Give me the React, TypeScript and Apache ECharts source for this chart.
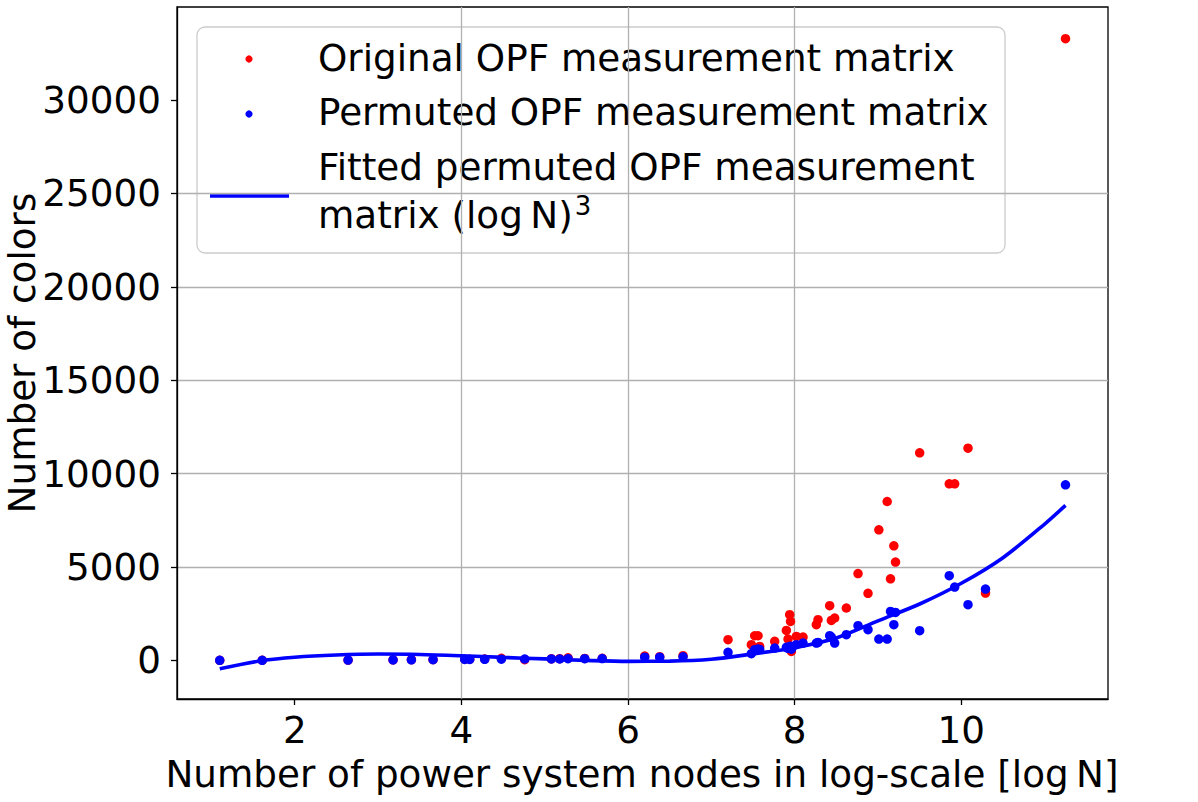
import React, { useEffect, useRef } from "react";
import * as echarts from "echarts";

// log of the number of nodes for each power system case
const logN = [
  1.1, 1.61, 2.64, 3.18, 3.4, 3.66, 4.04, 4.1, 4.28, 4.48, 4.76, 5.08, 5.18, 5.28, 5.48, 5.69,
  6.2, 6.38, 6.66, 7.2, 7.48, 7.52, 7.56, 7.58, 7.76, 7.9, 7.94, 7.95, 7.92, 7.96, 8.02, 8.1,
  8.26, 8.28, 8.42, 8.44, 8.48, 8.62, 8.76, 8.88, 9.01, 9.11, 9.15, 9.21, 9.19, 9.5, 9.855,
  9.92, 10.08, 10.29, 11.25,
];

// colors needed for the original measurement matrix
const originalColors = [
  5, 8, 20, 32, 38, 46, 62, 64, 75, 110, 40, 85, 95, 140, 105, 115,
  230, 200, 250, 1108, 840, 1320, 1320, 750, 1020, 1606, 2446, 2088, 1145, 482, 1285, 1252,
  1911, 2178, 2928, 2141, 2270, 2805, 4650, 3590, 6992, 8506, 4370, 5264, 6137, 11110, 9453,
  9453, 11363, 3606, 33280,
];

// colors needed for the permuted measurement matrix
const permutedColors = [
  4, 7, 17, 28, 33, 40, 52, 55, 60, 65, 75, 80, 75, 90, 95, 100,
  170, 170, 190, 430, 360, 572, 610, 590, 663, 700, 720, 760, 650, 600, 840, 930,
  930, 963, 1322, 1250, 930, 1376, 1857, 1642, 1145, 1145, 2621, 2570, 1910, 1589, 4534,
  3927, 2980, 3820, 9400,
];

// cubic fit in log N of the permuted colors
const fitLogN = [1.1, 1.6, 2, 2.5, 3, 3.5, 4, 4.5, 5, 5.5, 6, 6.5, 7, 7.5, 8, 8.5, 9, 9.5, 10, 10.5, 11, 11.25];
const fitColors = [-450, -20, 170, 290, 340, 320, 250, 160, 80, 0, -50, -40, 60, 350, 680, 1200, 2120, 3020, 4130, 5500, 7300, 8300];

const xTicks = [2, 4, 6, 8, 10];
const yTicks = [0, 5000, 10000, 15000, 20000, 25000, 30000];

const legendLabels = [
  "Original OPF measurement matrix",
  "Permuted OPF measurement matrix",
  "Fitted permuted OPF measurement",
  "matrix (log\u2009N)",
];

const FONT = '"DejaVu Sans", "Noto Sans", sans-serif';
const FS = 37.3;
const RED = "#ff0000";
const BLUE = "#0000ff";
const GRID_COLOR = "#b0b0b0";

function measure(text: string, size: number): number {
  const ctx = document.createElement("canvas").getContext("2d");
  if (!ctx) return text.length * size * 0.55;
  ctx.font = `${size}px ${FONT}`;
  return ctx.measureText(text).width;
}

export default function App() {
  const ref = useRef<HTMLDivElement | null>(null);

  useEffect(() => {
    if (!ref.current) return;
    const chart = echarts.init(ref.current, undefined, { renderer: "svg" });

    const textStyle = (text: string, extra: Record<string, unknown> = {}) => ({
      text,
      fontSize: FS,
      fontFamily: FONT,
      fill: "#000",
      ...extra,
    });

    const supX = 318 + measure(legendLabels[3], FS) + 2;

    chart.setOption({
      animation: false,
      backgroundColor: "#ffffff",
      grid: {
        left: 177,
        top: 7,
        width: 931,
        height: 692,
        show: true,
        borderColor: "#000",
        borderWidth: 1.3,
        backgroundColor: "transparent",
      },
      xAxis: {
        type: "value",
        min: 0.587,
        max: 11.76,
        splitNumber: 5,
        axisLine: { show: true, onZero: false, lineStyle: { color: "#000", width: 1.3 } },
        axisTick: { show: true, length: 6, customValues: xTicks, lineStyle: { color: "#000", width: 1.3 } },
        axisLabel: {
          customValues: xTicks,
          formatter: (v: number) => (xTicks.includes(v) ? String(v) : ""),
          fontSize: FS,
          fontFamily: FONT,
          color: "#000",
          margin: 12,
        },
        splitLine: { show: true, showMinLine: false, showMaxLine: false, lineStyle: { color: GRID_COLOR, width: 1.3 } },
      },
      yAxis: {
        type: "value",
        min: -2066,
        max: 34978,
        splitNumber: 7,
        axisLine: { show: true, onZero: false, lineStyle: { color: "#000", width: 1.3 } },
        axisTick: { show: true, length: 6, customValues: yTicks, lineStyle: { color: "#000", width: 1.3 } },
        axisLabel: {
          customValues: yTicks,
          formatter: (v: number) => (yTicks.includes(v) ? String(v) : ""),
          fontSize: FS,
          fontFamily: FONT,
          color: "#000",
          margin: 16,
        },
        splitLine: { show: true, showMinLine: false, showMaxLine: false, lineStyle: { color: GRID_COLOR, width: 1.3 } },
      },
      series: [
        {
          name: "Original OPF measurement matrix",
          type: "scatter",
          data: logN.map((x, i) => [x, originalColors[i]]),
          symbol: "circle",
          symbolSize: 9.5,
          itemStyle: { color: RED, opacity: 1 },
          emphasis: { disabled: true },
          z: 2,
        },
        {
          name: "Permuted OPF measurement matrix",
          type: "scatter",
          data: logN.map((x, i) => [x, permutedColors[i]]),
          symbol: "circle",
          symbolSize: 9.5,
          itemStyle: { color: BLUE, opacity: 1 },
          emphasis: { disabled: true },
          z: 3,
        },
        {
          name: "Fitted permuted OPF measurement matrix",
          type: "line",
          data: fitLogN.map((x, i) => [x, fitColors[i]]),
          showSymbol: false,
          smooth: 0.3,
          lineStyle: { color: BLUE, width: 3.6 },
          emphasis: { disabled: true },
          z: 4,
        },
      ],
      graphic: [
        {
          type: "text",
          x: 642,
          y: 774,
          style: textStyle("Number of power system nodes in log-scale [log\u2009N]", {
            align: "center",
            verticalAlign: "middle",
          }),
        },
        {
          type: "text",
          x: 22,
          y: 353,
          rotation: Math.PI / 2,
          style: textStyle("Number of colors", { align: "center", verticalAlign: "middle" }),
        },
        {
          type: "group",
          z: 100,
          children: [
            {
              type: "rect",
              shape: { x: 197, y: 27, width: 808, height: 226, r: 8 },
              style: { fill: "rgba(255,255,255,0.8)", stroke: "#cccccc", lineWidth: 1.3 },
            },
            { type: "circle", shape: { cx: 249, cy: 59, r: 3.6 }, style: { fill: RED } },
            { type: "circle", shape: { cx: 249, cy: 114, r: 3.6 }, style: { fill: BLUE } },
            {
              type: "line",
              shape: { x1: 210, y1: 196, x2: 289, y2: 196 },
              style: { stroke: BLUE, lineWidth: 3.6 },
            },
            { type: "text", x: 318, y: 57.5, style: textStyle(legendLabels[0], { verticalAlign: "middle" }) },
            { type: "text", x: 318, y: 112, style: textStyle(legendLabels[1], { verticalAlign: "middle" }) },
            { type: "text", x: 318, y: 167, style: textStyle(legendLabels[2], { verticalAlign: "middle" }) },
            { type: "text", x: 318, y: 215, style: textStyle(legendLabels[3], { verticalAlign: "middle" }) },
            {
              type: "text",
              x: supX,
              y: 206,
              style: textStyle("3", { fontSize: 26, verticalAlign: "middle" }),
            },
          ],
        },
      ],
    });

    return () => chart.dispose();
  }, []);

  return (
    <div
      ref={ref}
      style={{ position: "fixed", left: 0, top: 0, width: 1198, height: 802, background: "#fff" }}
    />
  );
}
